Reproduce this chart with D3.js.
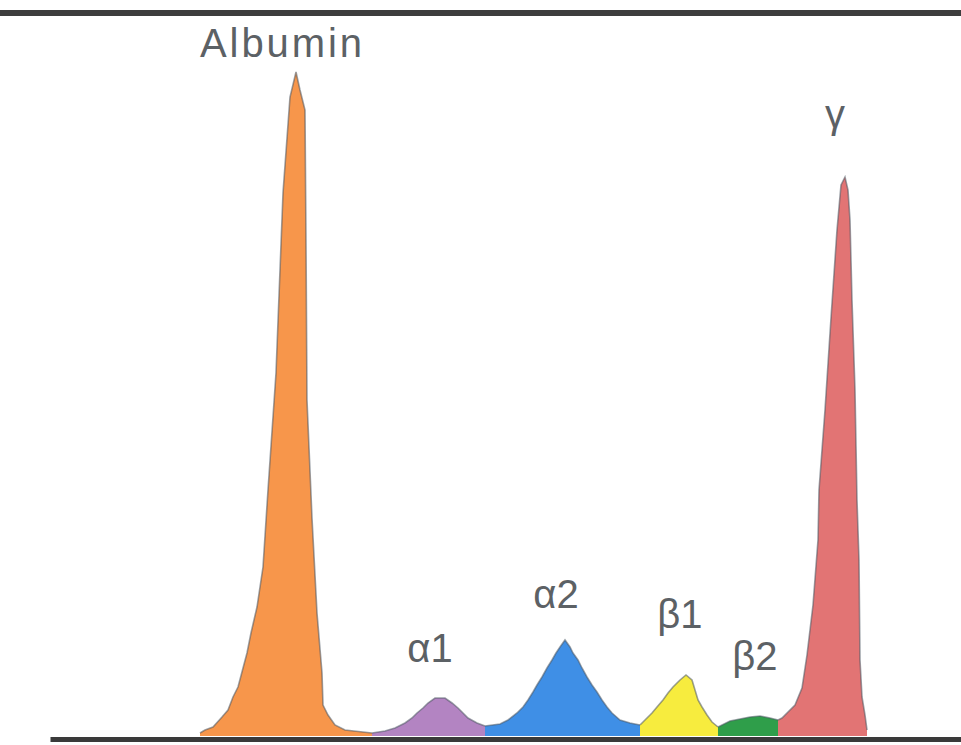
<!DOCTYPE html>
<html>
<head>
<meta charset="utf-8">
<script src="https://cdn.jsdelivr.net/npm/d3@7"></script>
<style>
    body { margin: 0; background: #fff; }
    text { font-family: "Liberation Sans", Arial, sans-serif; }
</style>
</head>
<body>
<div id="chart"></div>
<script>
// Data: densitometer trace, mobility (mm) vs absorbance
const fractions = ['Albumin', 'α1', 'α2', 'β1', 'β2', 'γ'];

const albumin = [
    [30, 0.6], [31, 1.2], [32.6, 1.8], [34.4, 3.8], [35.6, 5.2], [36.6, 7.8],
    [37.6, 9.8], [39.4, 16.6], [40.2, 20.6], [41.4, 25.8], [42.6, 33.8],
    [43.6, 49.2], [45.2, 72.6], [46.6, 108.6], [48, 127.8], [49.2, 132.8],
    [50, 129.2], [51, 125.2], [51.2, 99.2], [51.4, 67.2], [52.4, 43.6],
    [53.4, 24.6], [54.4, 12.6], [54.6, 6.2], [55.6, 4.2], [57, 2.2],
    [59, 1.2], [64.4, 0.6]
];
const alpha1 = [
    [64.4, 0.6], [67, 1], [69, 1.6], [71, 2.6], [72.4, 3.6], [73.4, 4.6],
    [74.6, 5.6], [75.6, 6.6], [77, 7.6], [79, 7.6], [80.4, 6.6], [81.6, 5.6],
    [82.6, 4.6], [83.6, 3.6], [85.4, 2.6], [87, 2]
];
const alpha2 = [
    [87, 2], [90, 2.4], [91.6, 3.2], [93.4, 4.6], [94.6, 5.8], [95.6, 7.2],
    [96.6, 8.8], [97.4, 10.2], [98.4, 11.8], [99.4, 13.6], [100.4, 15.2],
    [101.2, 16.6], [102, 17.8], [103, 19.2], [104, 17.8], [104.6, 16.6],
    [105.6, 15.2], [106.4, 13.6], [107.4, 11.8], [108.4, 10.2], [109.4, 8.8],
    [110.4, 7.2], [111.4, 5.8], [112.4, 4.6], [114, 3.2], [116, 2.6], [118, 2.2]
];
const beta1 = [
    [118, 2.2], [119, 3.2], [120.4, 4.6], [121.4, 5.8], [122.6, 7.2],
    [123.6, 8.6], [124.6, 9.8], [126, 11.2], [127.2, 12.2], [128.4, 11.2],
    [129, 9.2], [129.6, 7.2], [130.4, 5.8], [131.4, 4.2], [132.4, 2.8],
    [133.6, 1.8]
];
const beta2 = [
    [133.6, 1.8], [136, 3], [140, 3.8], [142, 4], [144, 3.6], [145.6, 3.2]
];
const gamma = [
    [145.6, 3.2], [146.4, 3.6], [147.6, 4.8], [149, 6.2], [150.4, 9.6],
    [151.4, 16.2], [152.6, 26.2], [153.6, 39.2], [153.8, 49.2], [155, 65.2],
    [156.2, 83.6], [157.4, 101.2], [158.2, 110.2], [159, 111.8],
    [159.6, 109.2], [160, 103.2], [160.4, 87.2], [161, 69.2], [161.4, 47.2],
    [161.8, 35.2], [162, 15.2], [162.4, 7.8], [163, 4.2], [163.4, 1.2]
];

const series = [albumin, alpha1, alpha2, beta1, beta2, gamma];
const colors = ['#f7964b', '#b384c2', '#3f8fe6', '#f7ec3e', '#2f9e4a', '#e27474'];

const chart_width = 961;
const chart_height = 745;

// label nudges relative to each peak (px)
const label_nudge = [[-15, -15], [-5, -36], [-9, -32], [-6, -47], [-5, -46], [-10, -49]];

// Scales
const x_scale = d3.scaleLinear()
    .domain([0, 182.2])
    .range([50, 961]);

const y_scale = d3.scaleLinear()
    .domain([0, 133])
    .range([736, 71]);

// SVG
const svg = d3.select('#chart')
    .append('svg')
    .attr('width', chart_width)
    .attr('height', chart_height);

// top rule
svg.append('line')
    .attr('x1', 0)
    .attr('x2', chart_width)
    .attr('y1', 13)
    .attr('y2', 13)
    .attr('stroke', '#3d3d3d')
    .attr('stroke-width', 6);

const area = d3.area()
    .x(d => x_scale(d[0]))
    .y0(y_scale(0))
    .y1(d => y_scale(d[1]));

const outline = d3.line()
    .x(d => x_scale(d[0]))
    .y(d => y_scale(d[1]));

series.forEach((s, i) => {
    svg.append('path')
        .datum(s)
        .attr('fill', colors[i])
        .attr('d', area);
});

series.forEach(s => {
    svg.append('path')
        .datum(s)
        .attr('fill', 'none')
        .attr('stroke', '#4a5560')
        .attr('stroke-opacity', 0.55)
        .attr('stroke-width', 1.6)
        .attr('d', outline);
});

// baseline
const x_axis = d3.axisBottom(x_scale).tickValues([]).tickSizeOuter(0);
svg.append('g')
    .attr('transform', `translate(0, ${y_scale(0) + 3})`)
    .call(x_axis)
    .select('.domain')
    .attr('stroke', '#3a3a3a')
    .attr('stroke-width', 5);

// Labels
series.forEach((s, i) => {
    const peak = d3.greatest(s, d => d[1]);
    const txt = svg.append('text')
        .attr('x', x_scale(peak[0]) + label_nudge[i][0])
        .attr('y', y_scale(peak[1]) + label_nudge[i][1])
        .attr('text-anchor', 'middle')
        .attr('font-size', 40)
        .attr('fill', '#5c6165')
        .text(fractions[i]);
    if (i === 0) txt.attr('textLength', 162).attr('lengthAdjust', 'spacing');
});
</script>
</body>
</html>
